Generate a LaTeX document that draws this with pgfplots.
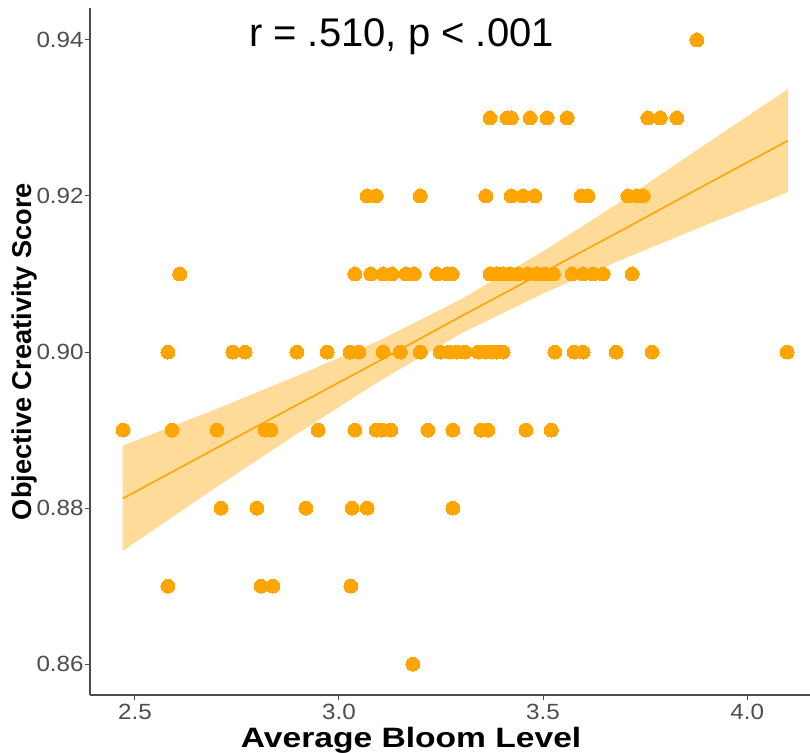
\documentclass[border=0pt]{standalone}
\usepackage{pgfplots}
\pgfplotsset{compat=1.18}
\usepackage{fontspec}
\setmainfont{Liberation Sans}
\newfontfamily\wsans{Liberation Sans}[FakeStretch=1.2]
\newfontfamily\tsans{Liberation Sans}[FakeStretch=1.1]
\definecolor{ggorange}{HTML}{FFA500}
\definecolor{ribbon}{HTML}{FFDB99}
\definecolor{axgrey}{HTML}{4D4D4D}
\definecolor{tickgrey}{HTML}{4D4D4D}

\pgfplotstableread{
x y
3.877 0.94
3.370 0.93
3.412 0.93
3.422 0.93
3.468 0.93
3.510 0.93
3.559 0.93
3.757 0.93
3.787 0.93
3.828 0.93
3.069 0.92
3.091 0.92
3.199 0.92
3.360 0.92
3.422 0.92
3.451 0.92
3.480 0.92
3.593 0.92
3.610 0.92
3.708 0.92
3.730 0.92
3.745 0.92
2.610 0.91
3.039 0.91
3.078 0.91
3.108 0.91
3.130 0.91
3.164 0.91
3.184 0.91
3.240 0.91
3.265 0.91
3.277 0.91
3.370 0.91
3.387 0.91
3.402 0.91
3.419 0.91
3.439 0.91
3.463 0.91
3.485 0.91
3.505 0.91
3.525 0.91
3.571 0.91
3.598 0.91
3.623 0.91
3.647 0.91
3.718 0.91
2.581 0.90
2.740 0.90
2.770 0.90
2.897 0.90
2.971 0.90
3.027 0.90
3.049 0.90
3.108 0.90
3.150 0.90
3.199 0.90
3.248 0.90
3.270 0.90
3.289 0.90
3.309 0.90
3.341 0.90
3.358 0.90
3.373 0.90
3.387 0.90
3.402 0.90
3.529 0.90
3.576 0.90
3.598 0.90
3.679 0.90
3.767 0.90
4.098 0.90
2.471 0.89
2.591 0.89
2.701 0.89
2.819 0.89
2.833 0.89
2.949 0.89
3.039 0.89
3.091 0.89
3.105 0.89
3.127 0.89
3.218 0.89
3.279 0.89
3.348 0.89
3.365 0.89
3.458 0.89
3.520 0.89
2.711 0.88
2.799 0.88
2.919 0.88
3.032 0.88
3.069 0.88
3.279 0.88
2.581 0.87
2.809 0.87
2.838 0.87
3.029 0.87
3.181 0.86
}\points

\pgfplotstableread{
x lo hi fit
2.47 0.8745 0.8880 0.8812
2.70 0.8827 0.8927 0.8877
2.90 0.8896 0.8970 0.8933
3.10 0.8963 0.9015 0.8989
3.30 0.9024 0.9068 0.9046
3.50 0.9075 0.9129 0.9102
3.70 0.9120 0.9196 0.9158
3.90 0.9163 0.9267 0.9215
4.10 0.9205 0.9337 0.9271
}\band

\begin{document}
\begin{tikzpicture}
\begin{axis}[
  scale only axis,
  width=360bp, height=343.5bp,
  xmin=2.390, xmax=4.154,
  ymin=0.85603, ymax=0.9441,
  axis x line*=bottom, axis y line*=left,
  axis line style={-, draw=axgrey, line width=0.6bp},
  tick align=outside,
  major tick length=2.5bp,
  tick style={draw=axgrey, line width=0.5bp},
  xtick={2.5,3.0,3.5,4.0},
  ytick={0.86,0.88,0.90,0.92,0.94},
  /pgf/number format/assume math mode=true,
  xticklabel style={font=\tsans\fontsize{11bp}{13bp}\selectfont, text=tickgrey, yshift=1.5bp,
    /pgf/number format/.cd, fixed, fixed zerofill, precision=1},
  yticklabel style={font=\tsans\fontsize{11bp}{13bp}\selectfont, text=tickgrey, inner xsep=0.5bp,
    /pgf/number format/.cd, fixed, fixed zerofill, precision=2},
  xlabel={\textbf{Average Bloom Level}},
  ylabel={\textbf{Objective Creativity Score}},
  xlabel style={font=\wsans\fontsize{14bp}{16bp}\selectfont, at={(axis description cs:0.446,-0.0771)}, anchor=base},
  ylabel style={font=\fontsize{13.6bp}{16bp}\selectfont, at={(axis description cs:-0.0917,0.5)}, anchor=center},
  clip=false,
]
\addplot[fill=ribbon, draw=none] table[x=x, y=lo] {\band}
  -- plot[] coordinates {(4.10,0.9337) (3.90,0.9267) (3.70,0.9196) (3.50,0.9129) (3.30,0.9068) (3.10,0.9015) (2.90,0.8970) (2.70,0.8927) (2.47,0.8880)} -- cycle;
\addplot[ggorange, line width=0.8bp, no marks] table[x=x, y=fit] {\band};
\addplot[ggorange, only marks, mark=*, mark size=3.5bp, mark options={fill=ggorange, draw=ggorange, line width=0pt}] table[x=x, y=y] {\points};
\node[anchor=base, font=\fontsize{20bp}{24bp}\selectfont] at (axis cs:3.153,0.9392) {r = .510, p < .001};
\end{axis}
\pgfresetboundingbox
\path (current axis.south west) ++(-45bp,-29bp) coordinate (a);
\path (current axis.north east) ++(0,4bp) coordinate (b);
\path[use as bounding box] (a) rectangle (b);
\end{tikzpicture}
\end{document}
